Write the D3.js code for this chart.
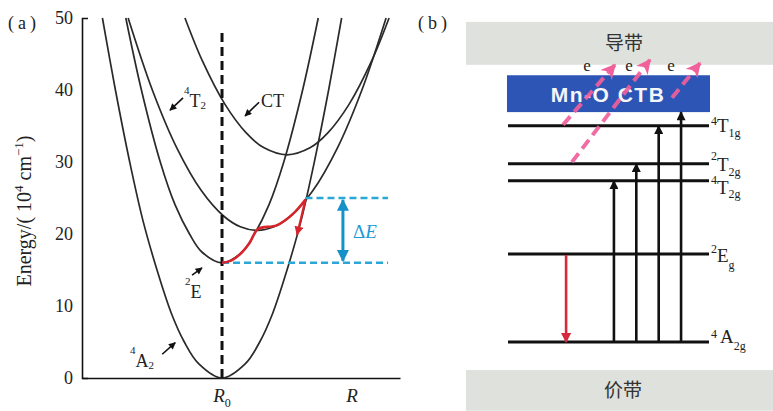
<!DOCTYPE html>
<html>
<head>
<meta charset="utf-8">
<script src="https://cdn.jsdelivr.net/npm/d3@7"></script>
<style>
  html, body { margin: 0; padding: 0; background: #fff; }
  svg { display: block; }
</style>
</head>
<body>
<svg id="chart" width="773" height="411"></svg>
<script>
// ---------- panel (a): configuration-coordinate diagram ----------
// energies in 10^4 cm^-1, Q is the configuration coordinate (R0 = 0, R = 1)
const energyTicks = [0, 10, 20, 30, 40, 50];
const coordTicks = [0, 1];
const coordNames = ["R", "R"];
const coordSubs = ["0", ""];

const curveA2 = [[-0.92, 50], [-0.82, 40], [-0.71, 30], [-0.61, 22], [-0.50, 15], [-0.39, 9], [-0.29, 5],
                 [-0.18, 2], [0, 0], [0.18, 2], [0.29, 5], [0.39, 9], [0.50, 15], [0.61, 22], [0.71, 30],
                 [0.82, 40], [0.92, 50]];
const curveE = [[-0.74, 50], [-0.62, 40], [-0.475, 30], [-0.36, 24], [-0.25, 20], [-0.155, 17.5], [0, 16],
                [0.155, 17.5], [0.25, 20], [0.36, 24], [0.475, 30], [0.62, 40], [0.74, 50]];
const curveT2 = [[-0.722, 50], [-0.536, 40], [-0.349, 32], [-0.158, 26], [0.012, 22.5], [0.141, 21],
                 [0.27, 20.5], [0.399, 21], [0.528, 22.5], [0.698, 26], [0.889, 32], [1.076, 40], [1.262, 50]];
const curveCT = [[-0.285, 50], [-0.15, 44], [0.023, 38], [0.188, 34], [0.32, 32], [0.5, 31],
                 [0.68, 32], [0.812, 34], [0.977, 38], [1.15, 44], [1.285, 50]];

// thermal route from the 2E minimum over the 4T2 state to the crossing with 4A2
const relaxPath = [[0, 16], [0.07, 16.3], [0.14, 17.2], [0.21, 18.7], [0.277, 20.7], [0.42, 21.2],
                   [0.546, 22.8], [0.642, 24.8]];
const relaxDrop = [[0.642, 24.8], [0.608, 22.2], [0.577, 19.9]];
const deltaE = [16, 25];      // lower / upper dashed levels
const deltaQ = 0.93;          // where the ΔE arrow stands

// state labels: [sup, main, sub, Q, E (baseline)], pointer arrows [Q0, E0, Q1, E1]
const stateLabels = [
  ["4", "T", "2", -0.292, 37.6],
  ["",  "CT", "", 0.30, 37.6],
  ["2", "E", "", -0.285, 11.1],
  ["4", "A", "2", -0.708, 1.5]
];
const statePointers = [
  [-0.30, 38.9, -0.40, 37.2],
  [0.285, 38.3, 0.177, 36.4],
  [-0.23, 14.3, -0.154, 15.3],
  [-0.46, 3.3, -0.36, 4.9]
];

// ---------- panel (b): energy-level scheme ----------
const levelSup = ["4", "2", "4", "2", "4"];
const levelMain = ["T", "T", "T", "E", "A"];
const levelSub = ["1g", "2g", "2g", "g", "2g"];
const levelEnergy = [39.3, 32.4, 29.3, 16, 0];
const ctbBand = [41.8, 48.5];          // Mn-O charge-transfer band
const conductionBand = [50.4, 58.2];
const valenceBand = [-12.5, -5.1];
const excitationTargets = ["4T2g", "2T2g", "4T1g", "CTB"];
const excitationEnergy = [29.3, 32.4, 39.3, 41.8];
const emission = [16, 0];
// photo-ionisation routes: [start pos, start E, end pos, end E]
const ionisation = [[0.274, 39.5, 0.532, 50.4], [0.318, 32.7, 0.706, 51.3], [0.816, 44.4, 0.955, 50.7]];
const electronPos = [0.393, 0.602, 0.811];

const svg = d3.select("#chart");
const serif = "'Liberation Serif', 'Times New Roman', serif";
const sans = "'Liberation Sans', Arial, sans-serif";
const cjk = "'Noto Sans CJK SC', sans-serif";

// arrowhead markers
const defs = svg.append("defs");
function marker(id, color, w, h, notch) {
  defs.append("marker")
    .attr("id", id).attr("viewBox", "0 0 10 10")
    .attr("refX", 9).attr("refY", 5)
    .attr("markerUnits", "userSpaceOnUse")
    .attr("markerWidth", w).attr("markerHeight", h)
    .attr("orient", "auto-start-reverse")
    .append("path")
    .attr("d", notch ? "M0,0 L10,5 L0,10 L3,5 Z" : "M0,0 L10,5 L0,10 Z")
    .attr("fill", color);
}
marker("hBlack", "#111", 8, 7, false);
marker("hBlackB", "#111", 10, 9, false);
marker("hRed", "#d8232a", 10, 9, false);
marker("hBlue", "#1591c9", 12, 13, false);
marker("hPink", "#f0609b", 15, 15, true);
marker("hRedB", "#d42a3c", 10, 10, false);

// ===== panel (a) =====
const xA = d3.scaleLinear().domain([-1.077, 1.369]).range([82, 400]);
const yA = d3.scaleLinear().domain([0, 50]).range([378, 18]);

svg.append("text").attr("x", 8).attr("y", 29)
  .attr("font-family", serif).attr("font-size", 18).attr("letter-spacing", 4)
  .attr("fill", "#222").text("(a)");

const gy = svg.append("g").attr("transform", `translate(${xA.range()[0]},0)`)
  .call(d3.axisLeft(yA).tickValues(energyTicks).tickSizeInner(0).tickSizeOuter(-6).tickPadding(9));
gy.select(".domain").attr("stroke", "#111").attr("stroke-width", 1.6);
gy.selectAll("text").attr("font-family", serif).attr("font-size", 18).attr("fill", "#222");

const gx = svg.append("g").attr("transform", `translate(0,${yA(0)})`)
  .call(d3.axisBottom(xA).tickValues(coordTicks).tickSizeInner(0).tickSizeOuter(0).tickFormat(""));
gx.select(".domain").attr("stroke", "#111").attr("stroke-width", 1.6);
coordTicks.forEach((v, i) => {
  const t = svg.append("text").attr("x", xA(v)).attr("y", 402)
    .attr("text-anchor", "middle").attr("font-family", serif).attr("fill", "#222");
  t.append("tspan").attr("font-size", 19).attr("font-style", "italic").text(coordNames[i]);
  if (coordSubs[i]) t.append("tspan").attr("font-size", 12).attr("dy", 5).text(coordSubs[i]);
});

const yl = svg.append("text").attr("transform", "translate(31,211) rotate(-90)")
  .attr("text-anchor", "middle").attr("font-family", serif).attr("font-size", 20).attr("fill", "#222");
yl.append("tspan").text("Energy/( 10");
yl.append("tspan").attr("font-size", 13).attr("dy", -8).text("4");
yl.append("tspan").attr("dy", 8).text(" cm");
yl.append("tspan").attr("font-size", 13).attr("dy", -8).text("\u22121");
yl.append("tspan").attr("dy", 8).text(")");

const lineA = d3.line().x(d => xA(d[0])).y(d => yA(d[1])).curve(d3.curveCatmullRom.alpha(0.5));
[curveA2, curveE, curveT2, curveCT].forEach(c => {
  svg.append("path").attr("d", lineA(c)).attr("fill", "none")
    .attr("stroke", "#2a2a2a").attr("stroke-width", 1.7);
});

// vertical dashed line at R0
svg.append("line").attr("x1", xA(0)).attr("x2", xA(0)).attr("y1", yA(47.9)).attr("y2", yA(0))
  .attr("stroke", "#111").attr("stroke-width", 3).attr("stroke-dasharray", "9,5");

// ΔE levels
const dashEnd = 1.277;
svg.append("line").attr("x1", xA(relaxPath[relaxPath.length - 1][0])).attr("x2", xA(dashEnd))
  .attr("y1", yA(deltaE[1])).attr("y2", yA(deltaE[1]))
  .attr("stroke", "#2aa7d6").attr("stroke-width", 2.6).attr("stroke-dasharray", "7,4");
svg.append("line").attr("x1", xA(0)).attr("x2", xA(dashEnd))
  .attr("y1", yA(deltaE[0])).attr("y2", yA(deltaE[0]))
  .attr("stroke", "#2aa7d6").attr("stroke-width", 2.6).attr("stroke-dasharray", "7,4");
svg.append("line").attr("x1", xA(deltaQ)).attr("x2", xA(deltaQ))
  .attr("y1", yA(deltaE[1]) + 2).attr("y2", yA(deltaE[0]) - 2)
  .attr("stroke", "#1591c9").attr("stroke-width", 3)
  .attr("marker-start", "url(#hBlue)").attr("marker-end", "url(#hBlue)");
const dt = svg.append("text").attr("x", xA(1.008)).attr("y", yA(19.4))
  .attr("font-family", serif).attr("font-size", 19).attr("fill", "#1b9ad6");
dt.append("tspan").text("\u0394");
dt.append("tspan").attr("font-style", "italic").text("E");

// red thermal route
svg.append("path").attr("d", lineA(relaxPath)).attr("fill", "none")
  .attr("stroke", "#d8232a").attr("stroke-width", 2.6);
svg.append("path").attr("d", lineA(relaxDrop)).attr("fill", "none")
  .attr("stroke", "#d8232a").attr("stroke-width", 2.2).attr("marker-end", "url(#hRed)");

// state labels
stateLabels.forEach((s, i) => {
  const t = svg.append("text").attr("x", xA(s[3])).attr("y", yA(s[4]))
    .attr("font-family", serif).attr("fill", "#222");
  if (s[0]) t.append("tspan").attr("font-size", 11).attr("dy", -13).text(s[0]);
  t.append("tspan").attr("font-size", 18).attr("dy", s[0] ? 13 : 0).text(s[1]);
  if (s[2]) t.append("tspan").attr("font-size", 11).attr("dy", 2).text(s[2]);
  const p = statePointers[i];
  svg.append("line").attr("x1", xA(p[0])).attr("y1", yA(p[1])).attr("x2", xA(p[2])).attr("y2", yA(p[3]))
    .attr("stroke", "#111").attr("stroke-width", 1.6).attr("marker-end", "url(#hBlack)");
});

// ===== panel (b) =====
const yB = d3.scaleLinear().domain([0, 16]).range([342, 254]);
const xB = d3.scaleLinear().domain([0, 1]).range([508, 709]);

svg.append("text").attr("x", 418).attr("y", 29)
  .attr("font-family", serif).attr("font-size", 18).attr("letter-spacing", 4)
  .attr("fill", "#222").text("(b)");

svg.append("rect").attr("x", 466).attr("width", 773 - 466)
  .attr("y", yB(conductionBand[1])).attr("height", yB(conductionBand[0]) - yB(conductionBand[1]))
  .attr("fill", "#dfe2dc");
svg.append("rect").attr("x", 466).attr("width", 773 - 466)
  .attr("y", yB(valenceBand[1])).attr("height", yB(valenceBand[0]) - yB(valenceBand[1]))
  .attr("fill", "#dfe2dc");
svg.append("text").attr("x", 624).attr("y", yB(54.3) + 7).attr("text-anchor", "middle")
  .attr("font-family", cjk).attr("font-size", 19).attr("fill", "#333").text("导带");
svg.append("text").attr("x", 623).attr("y", yB(-8.8) + 7).attr("text-anchor", "middle")
  .attr("font-family", cjk).attr("font-size", 19).attr("fill", "#333").text("价带");

svg.append("rect").attr("x", xB(-0.005)).attr("width", xB(1.005) - xB(-0.005))
  .attr("y", yB(ctbBand[1])).attr("height", yB(ctbBand[0]) - yB(ctbBand[1]))
  .attr("fill", "#2c55b6");
svg.append("text").attr("x", 608).attr("y", yB(45.15) + 8).attr("text-anchor", "middle")
  .attr("font-family", sans).attr("font-weight", "bold").attr("font-size", 21)
  .attr("letter-spacing", 1.5).attr("fill", "#f4f6fb").text("Mn-O CTB");

// levels
levelEnergy.forEach((e, i) => {
  svg.append("line").attr("x1", xB(0)).attr("x2", xB(1)).attr("y1", yB(e)).attr("y2", yB(e))
    .attr("stroke", "#111").attr("stroke-width", 3);
});
const levelShift = [[-1, 6, 11], [-4, 7, 12], [3, 13, 17], [-1, 8, 15], [-4, 1, 8]];
levelEnergy.forEach((e, i) => {
  const sh = levelShift[i];
  const t = svg.append("text").attr("x", 711).attr("y", yB(e) + sh[0])
    .attr("font-family", serif).attr("fill", "#222");
  t.append("tspan").attr("font-size", 12).text(levelSup[i]);
  t.append("tspan").attr("font-size", 19).attr("dx", i === 4 ? 3 : 0).attr("dy", sh[1] - sh[0]).text(levelMain[i]);
  t.append("tspan").attr("font-size", 12).attr("dy", sh[2] - sh[1]).text(levelSub[i]);
});

// excitation arrows
const xEx = d3.scalePoint().domain(excitationTargets).range([xB(0.527), xB(0.861)]);
excitationTargets.forEach((k, i) => {
  svg.append("line").attr("x1", xEx(k)).attr("x2", xEx(k))
    .attr("y1", yB(0)).attr("y2", yB(excitationEnergy[i]))
    .attr("stroke", "#111").attr("stroke-width", 2.6).attr("marker-end", "url(#hBlackB)");
});

// red emission 2Eg -> 4A2g
svg.append("line").attr("x1", xB(0.289)).attr("x2", xB(0.289))
  .attr("y1", yB(emission[0]) + 1).attr("y2", yB(emission[1]))
  .attr("stroke", "#d42a3c").attr("stroke-width", 2.6).attr("marker-end", "url(#hRedB)");

// electrons
electronPos.forEach(p => {
  svg.append("text").attr("x", xB(p)).attr("y", 71).attr("text-anchor", "middle")
    .attr("font-family", serif).attr("font-size", 17).attr("fill", "#222").text("e");
});

// ionisation into the conduction band
ionisation.forEach(r => {
  svg.append("line").attr("x1", xB(r[0])).attr("y1", yB(r[1])).attr("x2", xB(r[2])).attr("y2", yB(r[3]))
    .attr("stroke", "#f0609b").attr("stroke-opacity", 0.92).attr("stroke-width", 4)
    .attr("stroke-dasharray", "11,6").attr("marker-end", "url(#hPink)");
});
</script>
</body>
</html>
